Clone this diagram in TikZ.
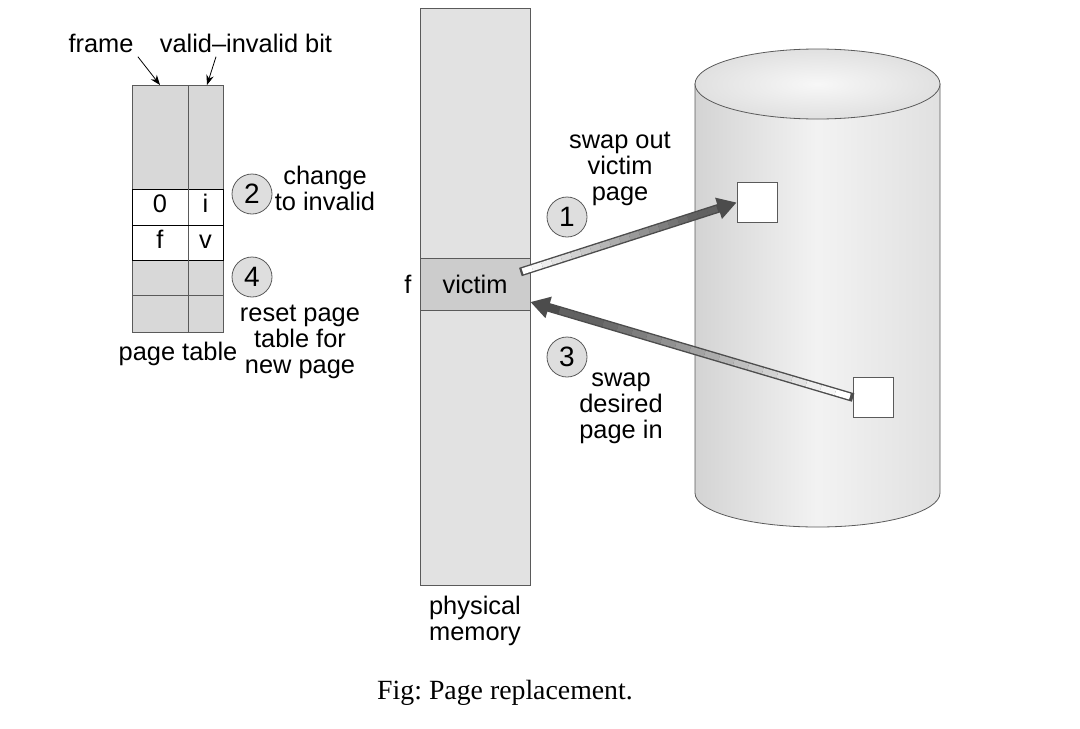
\documentclass[tikz,border=0pt]{standalone}
\usepackage{fontspec}
\setmainfont{Liberation Serif}
\newfontfamily\diagfont{Liberation Sans}
\usetikzlibrary{arrows.meta, positioning, calc}
\definecolor{tablegray}{RGB}{216,216,216}
\definecolor{memgray}{RGB}{226,226,226}
\definecolor{victimgray}{RGB}{204,204,204}
\definecolor{stepgray}{RGB}{222,222,222}
\definecolor{edgegray}{RGB}{90,90,90}
\frenchspacing

% thick swap arrow, white at the tail and dark at the head
\newcommand{\swaparrow}[2]{%
  \draw[line width=4.4pt, black!70, -{Triangle[length=9.5pt,width=10.5pt]}] (#1) -- (#2);
  \foreach \k in {0,...,19}{
    \pgfmathsetmacro{\shadeval}{min(62,\k*3.6)}
    \draw[line width=3pt, black!\shadeval] ($(#1)!{0.01+\k*0.045}!(#2)$) -- ($(#1)!{0.01+(\k+1)*0.045}!(#2)$);
  }
}

\begin{document}
\begin{tikzpicture}[
    x=0.5pt, y=-0.5pt,
    font=\diagfont\fontsize{12.7}{13}\selectfont,
    cell/.style={inner sep=0pt, text height=1.5ex, text depth=0.25ex},
    stepnum/.style={circle, draw=edgegray, fill=stepgray, minimum size=20pt, inner sep=0pt,
      font=\diagfont\fontsize{14}{14}\selectfont},
    diskpage/.style={rectangle, draw=edgegray, fill=white, minimum size=20pt, inner sep=0pt},
    note/.style={align=center, inner sep=1pt}
]
\useasboundingbox (0,0) rectangle (1080,728);

% Page table
\draw[edgegray, fill=tablegray] (132,85) rectangle (223,332);
\draw[black, fill=white] (132,189) rectangle (223,260);
\draw[edgegray] (188,85) -- (188,332);
\draw[black] (132,225) -- (223,225);
\draw[edgegray] (132,295) -- (223,295);
\node[cell] (fr0) at (160,207) {0};
\node[cell] (vb0) at (205.5,207) {i};
\node[cell] (fr1) at (160,243) {f};
\node[cell] (vb1) at (205.5,243) {v};
\node (ptlabel) at (178,354) {page table};

% Column labels
\node[inner sep=2pt] (frame) at (101,43) {frame};
\node[inner sep=2pt] (vibit) at (246,43) {valid–invalid bit};
\coordinate (frametop) at (160,85);
\coordinate (bittop) at (207,85);
\draw[-{Stealth[length=5pt]}] (frame.south east) -- (frametop);
\draw[-{Stealth[length=5pt]}] ($(vibit.south)+(-30,0)$) -- (bittop);

% Steps 2 and 4
\node[stepnum] (st2) at (252,194) {2};
\node[stepnum] (st4) at (252,277) {4};
\node[note] (chg) at (325,188) {change\\to invalid};
\node[note] (rst) at (300,342) {reset page\\table for\\new page};

% Physical memory
\node[draw=edgegray, fill=memgray, minimum width=55pt, minimum height=288.5pt, inner sep=0pt] (mem) at (475,296.5) {};
\node[draw=edgegray, fill=victimgray, minimum width=55pt, minimum height=26pt, inner sep=0pt] (victim) at (475,284) {victim};
\node (fmark) at (408,284) {f};
\node[note, below=4pt of mem] (memlabel) {physical\\memory};

% Disk
\shade[left color=black!17, right color=black!12, middle color=black!5, draw=edgegray]
  (695,84) -- (695,493) arc[start angle=180, end angle=0, x radius=122.5, y radius=34] -- (940,84) -- cycle;
\shade[inner color=black!3, outer color=black!12, draw=edgegray] (817.5,84) ellipse[x radius=122.5, y radius=35];
\node[diskpage] (dout) at (757,202.5) {};
\node[diskpage] (din) at (873.5,397.5) {};

% Swap arrows
\coordinate (outstart) at ($(victim.east)+(-10,-12)$);
\coordinate (inend) at ($(victim.east)+(0,18)$);
\swaparrow{outstart}{dout.west}
\swaparrow{din.west}{inend}

% Steps 1 and 3
\node[stepnum] (st1) at (567,217) {1};
\node[stepnum] (st3) at (567,357) {3};
\node[note] (swout) at (620,169) {swap out\\victim\\page};
\node[note] (swin) at (621,408) {swap\\desired\\page in};

% Caption
\node[font=\rmfamily\fontsize{13.9}{16}\selectfont] (caption) at (505,693) {Fig: Page replacement.};

\end{tikzpicture}
\end{document}
